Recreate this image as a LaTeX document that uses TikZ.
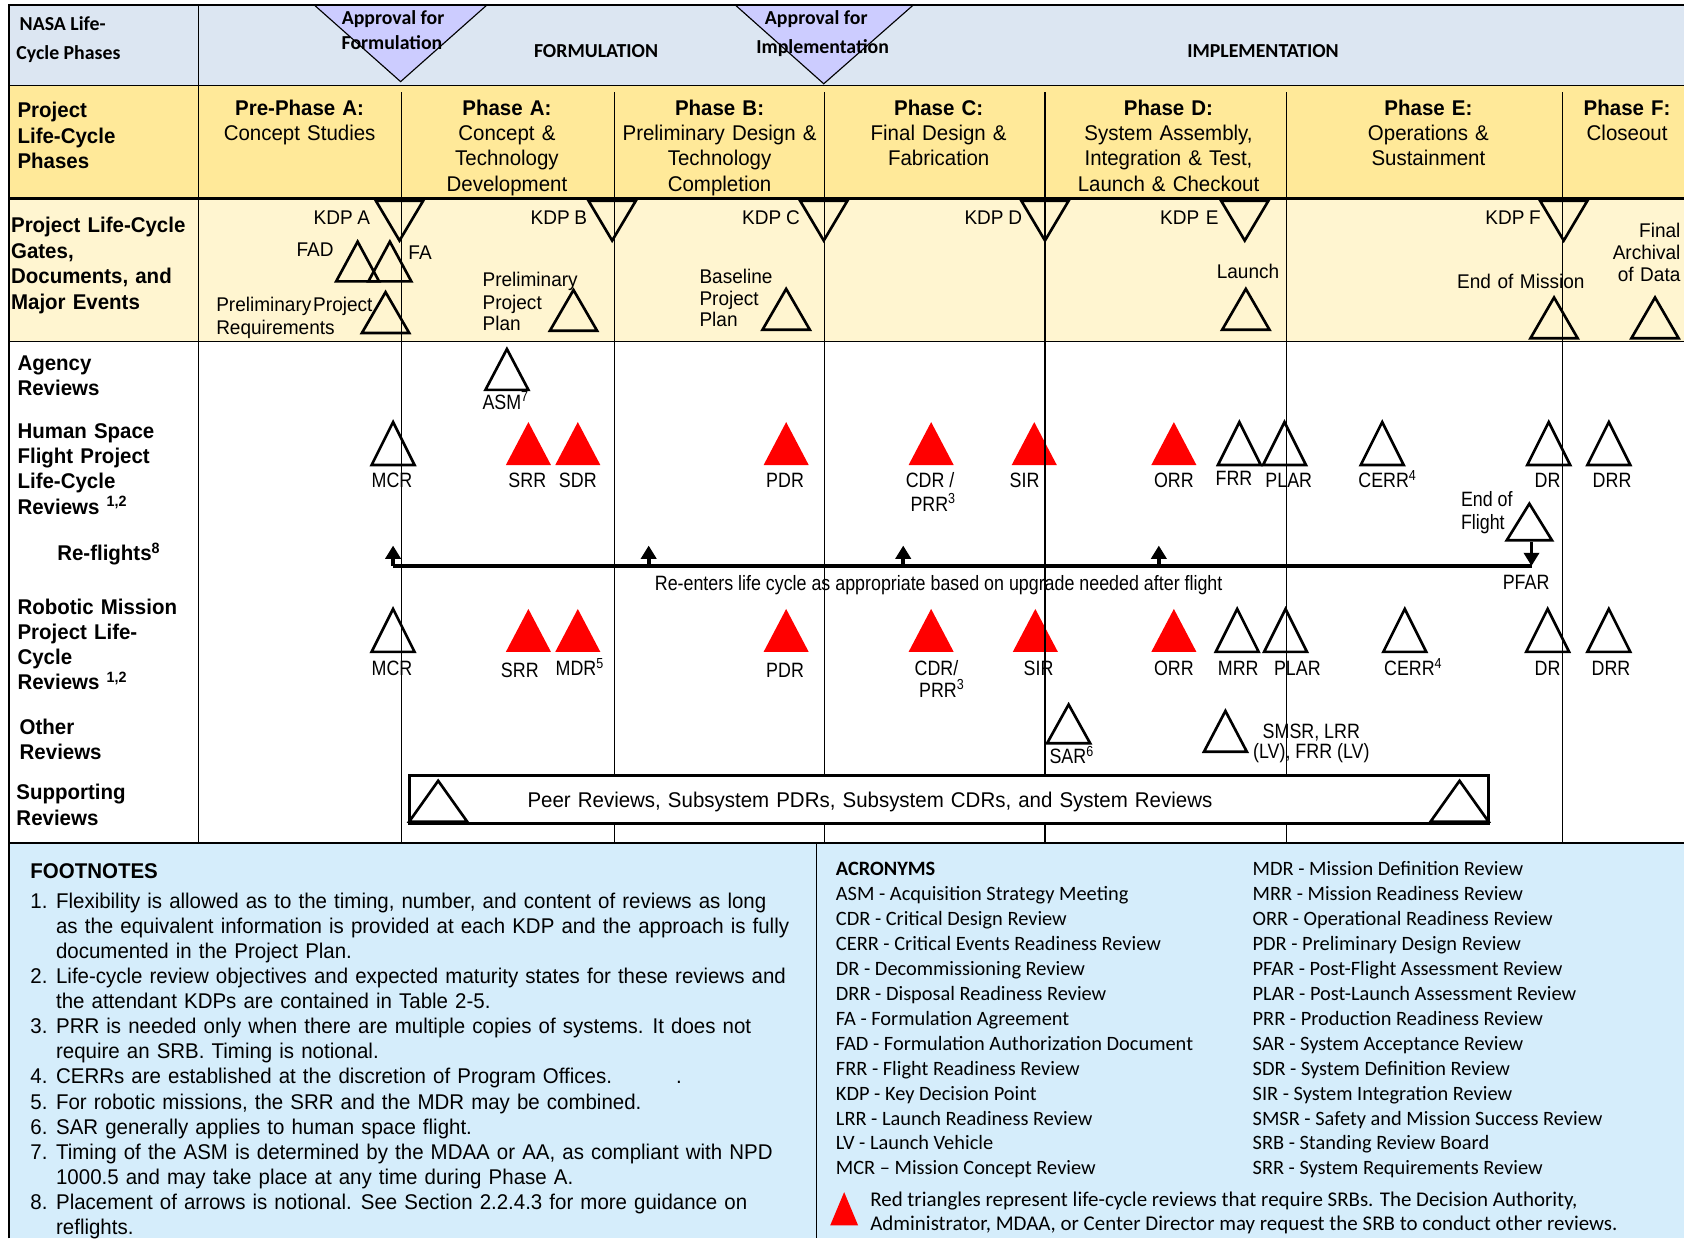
\documentclass[tikz,border=0pt]{standalone}
\usepackage{fontspec}
\setmainfont{Liberation Sans}[FakeStretch=0.86]
\newfontfamily\widefont{Liberation Sans}[FakeStretch=0.96, WordSpace=1.25]
\newfontfamily\calfont{Carlito}
\usetikzlibrary{arrows.meta}

\definecolor{hdrblue}{RGB}{220,230,242}
\definecolor{apprlav}{RGB}{204,204,255}
\definecolor{phaseyel}{RGB}{255,233,153}
\definecolor{gateyel}{RGB}{255,245,208}
\definecolor{notesblue}{RGB}{213,237,251}
\definecolor{srbred}{RGB}{255,0,0}

% upright review triangle: [style]{x}{base y}{half width}{height}
\newcommand{\uptri}[5][opentri]{\draw[#1] (#2-#4,#3) -- (#2,#3-#5) -- (#2+#4,#3) -- cycle;}
% key decision point (upside down)
\newcommand{\kdptri}[1]{\draw[opentri] (#1-22,187) -- (#1,224) -- (#1+22,187) -- cycle;}

\tikzset{
  every node/.style={inner sep=0pt},
  hdrtxt/.style={font=\calfont\bfseries\fontsize{10.5}{12}\selectfont},
  rowhead/.style={anchor=north west, align=left, font=\widefont\bfseries\fontsize{11.3}{13.4}\selectfont},
  phasehd/.style={anchor=north, align=center, font=\widefont\fontsize{11.3}{13.3}\selectfont},
  gatetxt/.style={font=\widefont\fontsize{10.5}{11.5}\selectfont},
  revtxt/.style={anchor=base, font=\fontsize{11}{13}\selectfont},
  notetxt/.style={font=\widefont\fontsize{11.3}{13.3}\selectfont},
  acrtxt/.style={font=\calfont\fontsize{10.8}{13.2}\selectfont},
  opentri/.style={draw, line width=1.4pt, line join=miter},
  redtri/.style={fill=srbred, draw=none},
  apprtri/.style={draw, fill=apprlav, line width=0.6pt},
  phaseline/.style={line width=0.6pt},
  reflight/.style={line width=2.3pt},
  refarrow/.style={line width=2pt, -{Triangle[length=7pt,width=8pt]}},
  suppbox/.style={draw, fill=white, line width=1.7pt},
}

\begin{document}
\begin{tikzpicture}[x=0.02cm, y=-0.02cm]
    \useasboundingbox (0,0) rectangle (1568,1153);

    % bands
    \fill[hdrblue] (8,5) rectangle (1568,80);
    \fill[phaseyel] (8,80) rectangle (1568,185);
    \fill[gateyel] (8,185) rectangle (1568,318);
    \fill[notesblue] (8,785) rectangle (1568,1153);

    % header row
    \node[hdrtxt, anchor=base west] (nasaA) at (18,28) {NASA Life-};
    \node[hdrtxt, anchor=base west] (nasaB) at (15,55) {Cycle Phases};
    \draw[apprtri] (293,5) -- (453,5) -- (373,76) -- cycle; % approval for formulation
    \draw[apprtri] (685,5) -- (850,5) -- (767,78) -- cycle; % approval for implementation
    \node[hdrtxt, anchor=base] (apfA) at (366,23) {Approval for};
    \node[hdrtxt, anchor=base] (apfB) at (365,46) {Formulation};
    \node[hdrtxt, anchor=base] (apiA) at (760,23) {Approval for};
    \node[hdrtxt, anchor=base] (apiB) at (766,50) {Implementation};
    \node[hdrtxt, anchor=base] (form) at (555,54) {FORMULATION};
    \node[hdrtxt, anchor=base] (impl) at (1176,54) {IMPLEMENTATION};

    % red reviews (under the phase lines)
    \uptri[redtri]{492}{433}{21}{40} % SRR
    \uptri[redtri]{538}{433}{21}{40} % SDR
    \uptri[redtri]{732}{433}{21}{40} % PDR
    \uptri[redtri]{867}{433}{21}{40} % CDR
    \uptri[redtri]{963}{433}{21}{40} % SIR
    \uptri[redtri]{1093}{433}{21}{40} % ORR
    \uptri[redtri]{492}{607}{21}{40} % SRR
    \uptri[redtri]{538}{607}{21}{40} % MDR
    \uptri[redtri]{732}{607}{21}{40} % PDR
    \uptri[redtri]{867}{607}{21}{40} % CDR
    \uptri[redtri]{964}{607}{21}{40} % SIR
    \uptri[redtri]{1093}{607}{21}{40} % ORR

    % phase lines
    \draw[phaseline] (185,5) -- (185,785);
    \draw[phaseline] (374,86) -- (374,785);
    \draw[phaseline] (572,86) -- (572,785);
    \draw[phaseline] (768,86) -- (768,785);
    \draw[phaseline] (973,86) -- (973,785);
    \draw[phaseline] (1198,86) -- (1198,785);
    \draw[phaseline] (1455,86) -- (1455,785);
    \draw[phaseline] (8,80) -- (1568,80);
    \draw[line width=1.5pt] (8,185) -- (1568,185);
    \draw[line width=1pt] (8,318) -- (1568,318);
    \draw[line width=1pt] (8,785) -- (1568,785);
    \draw[phaseline] (760,785) -- (760,1153);
    \draw[line width=1pt] (8,1153) -- (8,5) -- (1568,5);

    % phases
    \node[rowhead] (lcp) at (16,95) {Project\\Life-Cycle\\Phases};
    \node[phasehd] (ppa) at (279,93) {\textbf{Pre-Phase A:}\\Concept Studies};
    \node[phasehd] (pha) at (472,93) {\textbf{Phase A:}\\Concept \&\\Technology\\Development};
    \node[phasehd] (phb) at (670,93) {\textbf{Phase B:}\\Preliminary Design \&\\Technology\\Completion};
    \node[phasehd] (phc) at (874,93) {\textbf{Phase C:}\\Final Design \&\\Fabrication};
    \node[phasehd] (phd) at (1088,93) {\textbf{Phase D:}\\System Assembly,\\Integration \& Test,\\Launch \& Checkout};
    \node[phasehd] (phe) at (1330,93) {\textbf{Phase E:}\\Operations \&\\Sustainment};
    \node[phasehd] (phf) at (1515,93) {\textbf{Phase F:}\\Closeout};

    % gates, documents and events
    \node[rowhead, font=\widefont\bfseries\fontsize{11.3}{13.5}\selectfont] (gates) at (10,202) {Project Life-Cycle\\Gates,\\Documents, and\\Major Events};
    \kdptri{372} \kdptri{570} \kdptri{767} \kdptri{973} \kdptri{1159} \kdptri{1456}
    \node[gatetxt, anchor=base east] (kdpa) at (345,209) {KDP\hspace{2.5pt}A};
    \node[gatetxt, anchor=base east] (kdpb) at (547,209) {KDP\hspace{2.5pt}B};
    \node[gatetxt, anchor=base east] (kdpc) at (745,209) {KDP\hspace{2.5pt}C};
    \node[gatetxt, anchor=base east] (kdpd) at (952,209) {KDP\hspace{2.5pt}D};
    \node[gatetxt, anchor=base east] (kdpe) at (1135,209) {KDP E};
    \node[gatetxt, anchor=base east] (kdpf) at (1435,209) {KDP\hspace{2.5pt}F};
    \uptri{333}{262}{20}{37} % FAD
    \uptri{363}{262}{20}{37} % FA
    \uptri{359}{310}{22}{38}
    \uptri{534}{308}{22}{38}
    \uptri{732}{307}{22}{38}
    \uptri{1160}{307}{22}{38}
    \uptri{1447}{315}{22}{38}
    \uptri{1541}{315}{22}{38}
    \node[gatetxt, anchor=base east] (fad) at (311,239) {FAD};
    \node[gatetxt, anchor=base west] (fa) at (380,242) {FA};
    \node[gatetxt, anchor=base west] (pprA) at (201,290) {Preliminary\hspace{1pt}Project};
    \node[gatetxt, anchor=base west] (pprB) at (201,311) {Requirements};
    \node[gatetxt, anchor=base west] (pppA) at (449,267) {Preliminary};
    \node[gatetxt, anchor=base west] (pppB) at (449,288) {Project};
    \node[gatetxt, anchor=base west] (pppC) at (449,308) {Plan};
    \node[gatetxt, anchor=base west] (bppA) at (651,264) {Baseline};
    \node[gatetxt, anchor=base west] (bppB) at (651,284) {Project};
    \node[gatetxt, anchor=base west] (bppC) at (651,304) {Plan};
    \node[gatetxt, anchor=base] (launch) at (1162,259) {Launch};
    \node[gatetxt, anchor=base] (eom) at (1416,269) {End of Mission};
    \node[gatetxt, anchor=base east] (farA) at (1565,221) {Final};
    \node[gatetxt, anchor=base east] (farB) at (1565,242) {Archival};
    \node[gatetxt, anchor=base east] (farC) at (1565,262) {of Data};

    % agency reviews
    \node[rowhead] (agency) at (16,331) {Agency\\Reviews};
    \uptri{472}{363}{20}{38}
    \node[revtxt] (asm) at (471,381) {ASM\textsuperscript{7}};

    % human space flight
    \node[rowhead] (hsf) at (16,394) {Human Space\\Flight Project\\Life-Cycle\\Reviews \textsuperscript{1,2}};
    \uptri{366}{433}{20}{40} % MCR
    \uptri{1154}{433}{20}{40} % FRR
    \uptri{1196}{433}{20}{40} % PLAR
    \uptri{1287}{433}{20}{40} % CERR
    \uptri{1442}{433}{20}{40} % DR
    \uptri{1498}{433}{20}{40} % DRR
    \node[revtxt] (hmcr) at (365,454) {MCR};
    \node[revtxt] (hsrr) at (491,454) {SRR};
    \node[revtxt] (hsdr) at (538,454) {SDR};
    \node[revtxt] (hpdr) at (731,454) {PDR};
    \node[revtxt] (hcdr) at (866,454) {CDR /};
    \node[revtxt] (hprr) at (869,476) {PRR\textsuperscript{3}};
    \node[revtxt] (hsir) at (954,454) {SIR};
    \node[revtxt] (horr) at (1093,454) {ORR};
    \node[revtxt] (hfrr) at (1149,452) {FRR};
    \node[revtxt] (hplar) at (1200,454) {PLAR};
    \node[revtxt] (hcerr) at (1292,454) {CERR\textsuperscript{4}};
    \node[revtxt] (hdr) at (1441,454) {DR};
    \node[revtxt] (hdrr) at (1501,454) {DRR};
    \uptri{1424}{503}{21}{34} % end of flight
    \node[revtxt, anchor=base west] (eofA) at (1360,472) {End of};
    \node[revtxt, anchor=base west] (eofB) at (1360,493) {Flight};

    % re-flights
    \node[rowhead, anchor=base west] (reflt) at (53,522) {Re-flights\textsuperscript{8}};
    \coordinate (rfStart) at (366,527);
    \coordinate (rfEnd) at (1426,527);
    \coordinate (rfUpA) at (366,508);
    \coordinate (rfB) at (604,527);
    \coordinate (rfUpB) at (604,508);
    \coordinate (rfC) at (841,527);
    \coordinate (rfUpC) at (841,508);
    \coordinate (rfD) at (1079,527);
    \coordinate (rfUpD) at (1079,508);
    \coordinate (eofBase) at (1426,505);
    \draw[reflight] (rfStart) -- (rfEnd);
    \draw[refarrow] (rfStart) -- (rfUpA);
    \draw[refarrow] (rfB) -- (rfUpB);
    \draw[refarrow] (rfC) -- (rfUpC);
    \draw[refarrow] (rfD) -- (rfUpD);
    \draw[refarrow] (eofBase) -- (rfEnd);
    \node[revtxt] (pfar) at (1421,549) {PFAR};
    \node[revtxt] (reenter) at (874,550) {Re-enters life cycle as appropriate based on upgrade needed after flight};

    % robotic missions
    \node[rowhead] (robo) at (16,557) {Robotic Mission\\Project Life-\\Cycle\\Reviews \textsuperscript{1,2}};
    \uptri{366}{607}{20}{40} % MCR
    \uptri{1152}{607}{20}{40} % MRR
    \uptri{1197}{607}{20}{40} % PLAR
    \uptri{1308}{607}{20}{40} % CERR
    \uptri{1441}{607}{20}{40} % DR
    \uptri{1498}{607}{20}{40} % DRR
    \node[revtxt] (rmcr) at (365,629) {MCR};
    \node[revtxt] (rsrr) at (484,631) {SRR};
    \node[revtxt] (rmdr) at (540,629) {MDR\textsuperscript{5}};
    \node[revtxt] (rpdr) at (731,631) {PDR};
    \node[revtxt] (rcdr) at (872,629) {CDR/};
    \node[revtxt] (rprr) at (877,649) {PRR\textsuperscript{3}};
    \node[revtxt] (rsir) at (967,629) {SIR};
    \node[revtxt] (rorr) at (1093,629) {ORR};
    \node[revtxt] (rmrr) at (1153,629) {MRR};
    \node[revtxt] (rplar) at (1208,629) {PLAR};
    \node[revtxt] (rcerr) at (1316,629) {CERR\textsuperscript{4}};
    \node[revtxt] (rdr) at (1441,629) {DR};
    \node[revtxt] (rdrr) at (1500,629) {DRR};

    % other reviews
    \node[rowhead] (other) at (18,669) {Other\\Reviews};
    \uptri{995}{692}{20}{36} % SAR
    \uptri{1141}{700}{20}{38} % SMSR
    \node[revtxt] (sar) at (998,711) {SAR\textsuperscript{6}};
    \node[revtxt] (smsrA) at (1221,688) {SMSR, LRR};
    \node[revtxt] (smsrB) at (1221,706) {(LV), FRR (LV)};

    % supporting reviews
    \node[rowhead] (supp) at (15,730) {Supporting\\Reviews};
    \draw[suppbox] (381,722) rectangle (1386,767);
    \uptri{408}{765}{27}{38}
    \uptri{1359}{765}{27}{38}
    \node[revtxt, font=\widefont\fontsize{11.3}{13}\selectfont] (supptxt) at (810,752) {Peer Reviews,\ Subsystem PDRs,\ Subsystem CDRs,\ and System Reviews};

    % footnotes
    \node[notetxt, anchor=base west, font=\widefont\bfseries\fontsize{11.3}{13.3}\selectfont] (fnhead) at (28,818) {FOOTNOTES};
    \node[notetxt, anchor=north west] (fnotes) at (28,829) {%
      \begin{tabular}{@{}p{13.6pt}@{}l@{}}
      1. & Flexibility is allowed as to the timing, number, and content of reviews as long\\
         & as the equivalent information is provided at each KDP and the approach is fully\\
         & documented in the Project Plan.\\
      2. & Life-cycle review objectives and expected maturity states for these reviews and\\
         & the attendant KDPs are contained in Table 2-5.\\
      3. & PRR is needed only when there are multiple copies of systems. It does not\\
         & require an SRB. Timing is notional.\\
      4. & CERRs are established at the discretion of Program Offices.\hspace{3em}.\\
      5. & For robotic missions, the SRR and the MDR may be combined.\\
      6. & SAR generally applies to human space flight.\\
      7. & Timing of the ASM is determined by the MDAA or AA, as compliant with NPD\\
         & 1000.5 and may take place at any time during Phase A.\\
      8. & Placement of arrows is notional. See Section 2.2.4.3 for more guidance on\\
         & reflights.
      \end{tabular}};

    % acronyms
    \node[acrtxt, anchor=north west] (acrL) at (778,799) {%
      \begin{tabular}{@{}l@{}}
      \textbf{ACRONYMS}\\
      ASM - Acquisition Strategy Meeting\\
      CDR - Critical Design Review\\
      CERR - Critical Events Readiness Review\\
      DR - Decommissioning Review\\
      DRR - Disposal Readiness Review\\
      FA - Formulation Agreement\\
      FAD - Formulation Authorization Document\\
      FRR - Flight Readiness Review\\
      KDP - Key Decision Point\\
      LRR - Launch Readiness Review\\
      LV - Launch Vehicle\\
      MCR – Mission Concept Review
      \end{tabular}};
    \node[acrtxt, anchor=north west] (acrR) at (1166,799) {%
      \begin{tabular}{@{}l@{}}
      MDR - Mission Definition Review\\
      MRR - Mission Readiness Review\\
      ORR - Operational Readiness Review\\
      PDR - Preliminary Design Review\\
      PFAR - Post-Flight Assessment Review\\
      PLAR - Post-Launch Assessment Review\\
      PRR - Production Readiness Review\\
      SAR - System Acceptance Review\\
      SDR - System Definition Review\\
      SIR - System Integration Review\\
      SMSR - Safety and Mission Success Review\\
      SRB - Standing Review Board\\
      SRR - System Requirements Review
      \end{tabular}};
    \uptri[redtri]{786}{1141}{13}{31}
    \node[acrtxt, anchor=base west, font=\calfont\fontsize{11.1}{13.2}\selectfont] (legA) at (810,1123) {Red triangles represent life-cycle reviews that require SRBs. The Decision Authority,};
    \node[acrtxt, anchor=base west, font=\calfont\fontsize{11.1}{13.2}\selectfont] (legB) at (810,1146) {Administrator, MDAA, or Center Director may request the SRB to conduct other reviews.};

\end{tikzpicture}
\end{document}
